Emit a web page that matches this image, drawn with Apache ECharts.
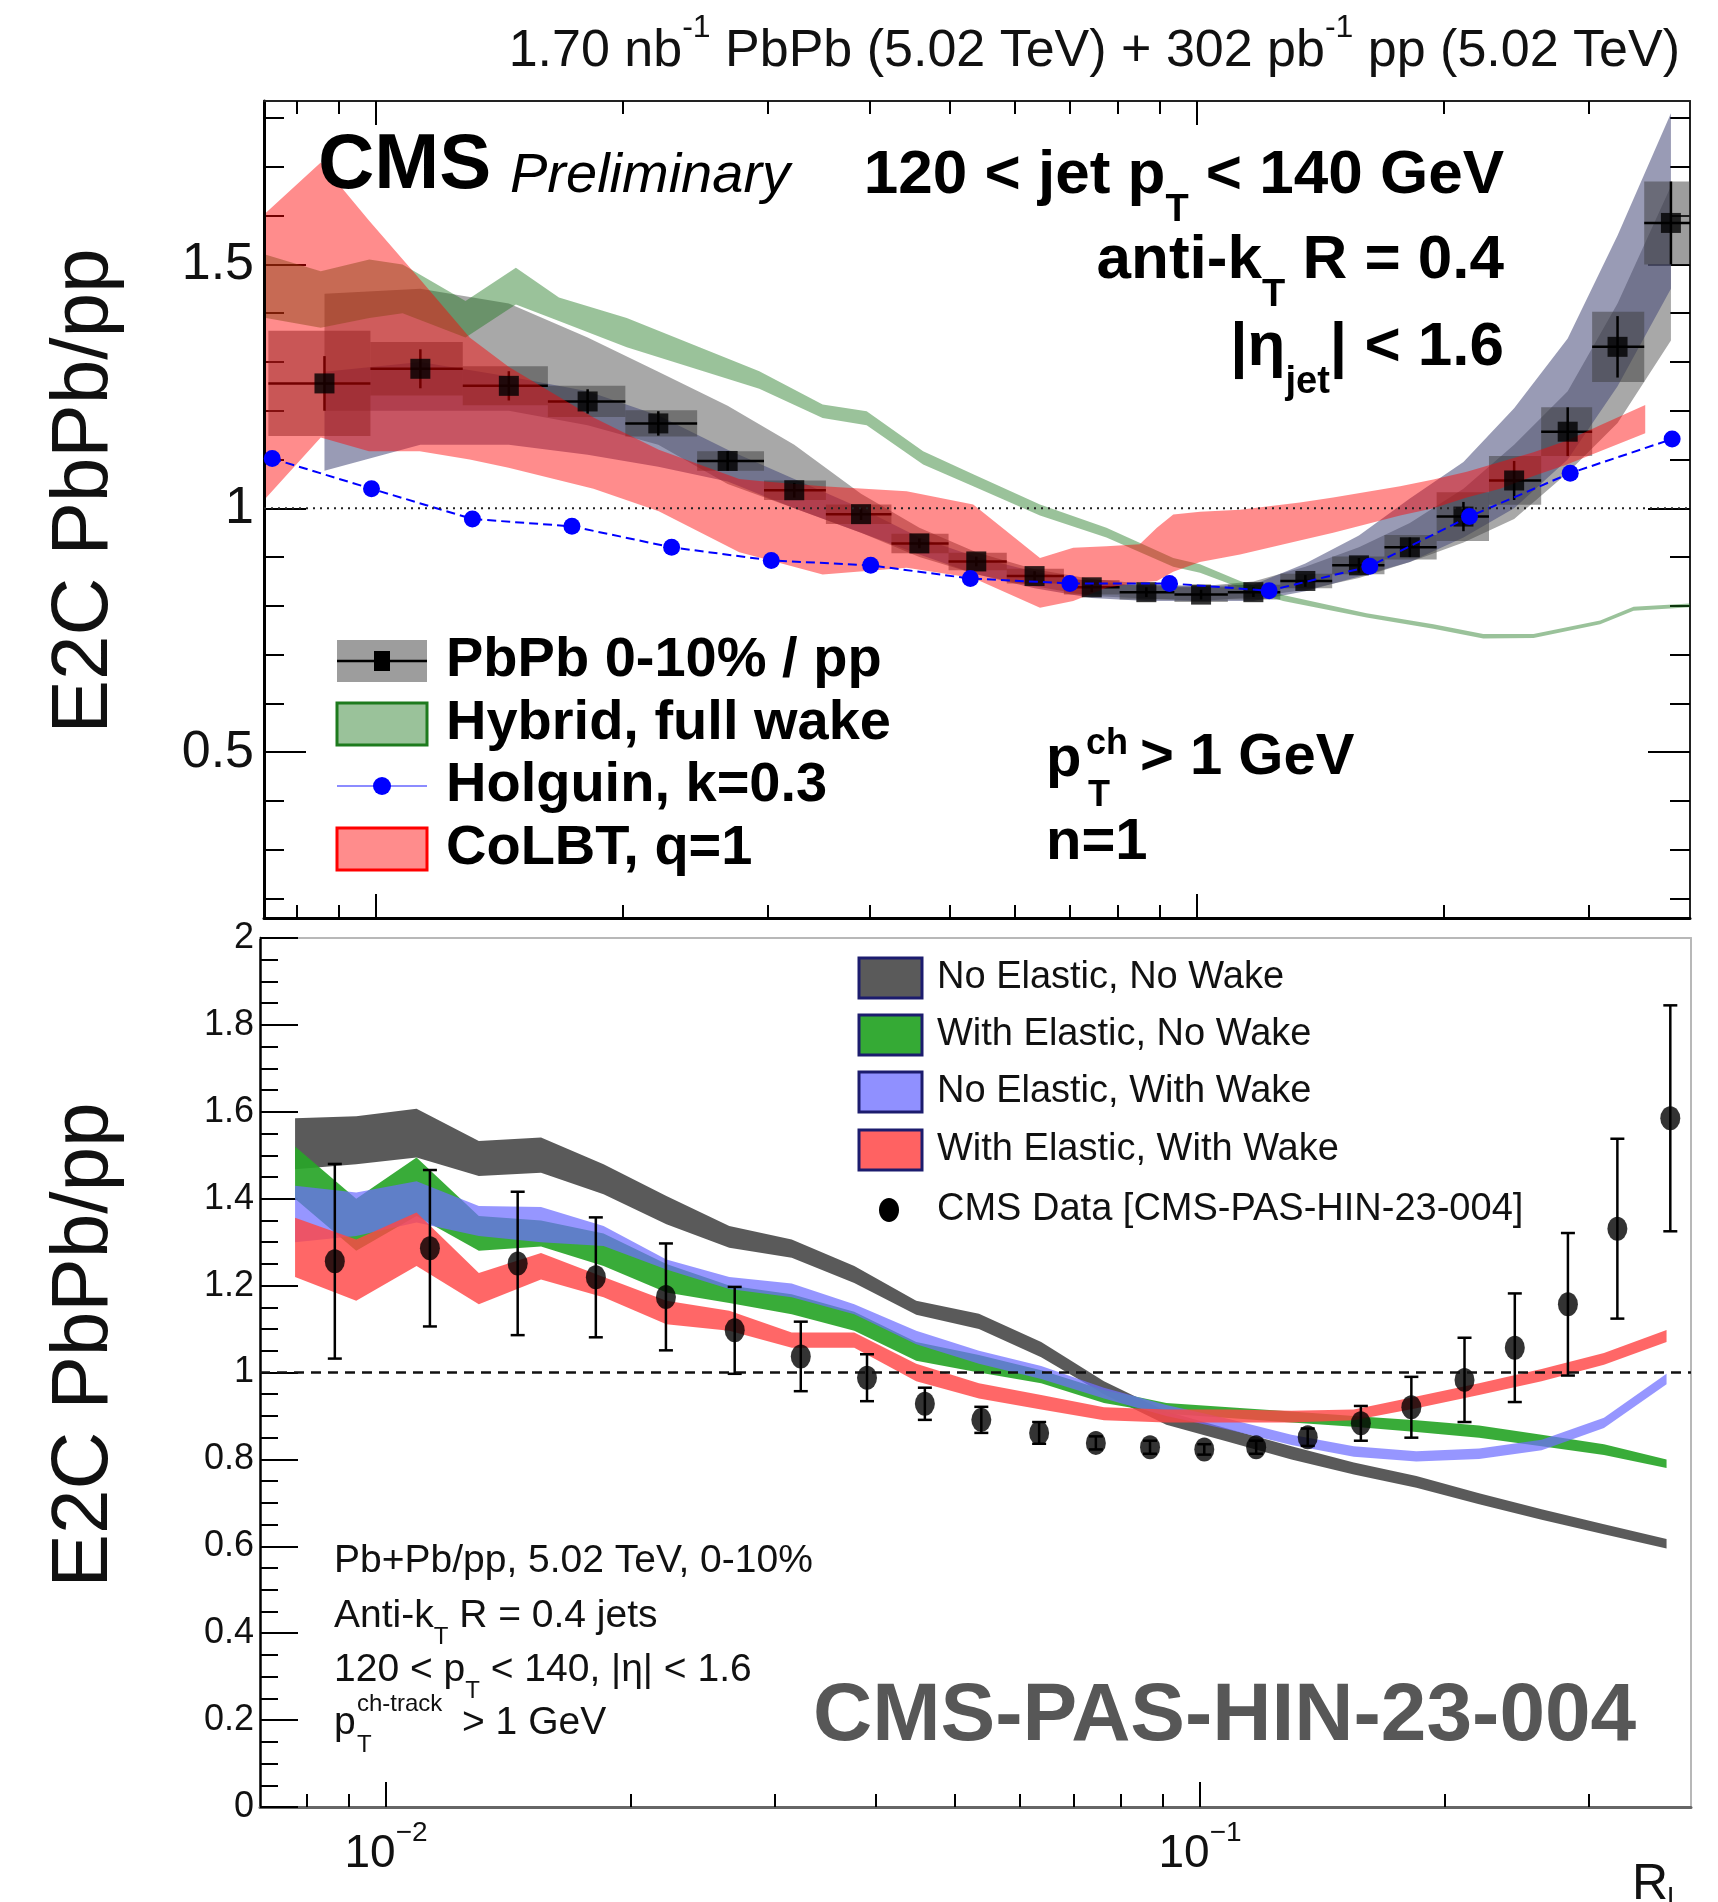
<!DOCTYPE html>
<html>
<head>
<meta charset="utf-8">
<title>E2C PbPb/pp</title>
<script src="https://cdn.jsdelivr.net/npm/echarts@6.0.0/dist/echarts.min.js"></script>
<style>
  html, body { margin: 0; padding: 0; background: #fff; }
  #chart { width: 1718px; height: 1902px; }
</style>
</head>
<body>
<div id="chart"></div>
<script>
var FONT = "'Liberation Sans', Arial, Helvetica, sans-serif";

// ---- CMS data: R_L bins, PbPb/pp ratio, uncertainties ----
var RL = [0.00865, 0.01132, 0.01451, 0.0181, 0.02207, 0.02681, 0.03232, 0.03898, 0.04591, 0.05386, 0.06343, 0.07447,
  0.0868, 0.1012, 0.1172, 0.1356, 0.1576, 0.1818, 0.2113, 0.2436, 0.2831, 0.3256, 0.3782];
var RL_EDGES = [0.00739, 0.00984, 0.01275, 0.01619, 0.02012, 0.02461, 0.02969, 0.03532, 0.04245, 0.04983, 0.05867, 0.06887,
  0.08052, 0.09391, 0.1091, 0.1264, 0.1462, 0.1693, 0.196, 0.227, 0.2628, 0.3032, 0.3509, 0.4064];
var E2C_RATIO = [1.256, 1.286, 1.251, 1.219, 1.174, 1.097, 1.037, 0.988, 0.928, 0.891, 0.861, 0.838,
  0.828, 0.823, 0.828, 0.851, 0.883, 0.920, 0.983, 1.057, 1.157, 1.331, 1.585];
var STAT_ERR = [0.056, 0.04, 0.03, 0.025, 0.025, 0.02, 0.015, 0.012, 0.01, 0.01, 0.01, 0.01,
  0.01, 0.01, 0.01, 0.012, 0.015, 0.02, 0.03, 0.04, 0.05, 0.063, 0.085];
var SYST_ERR = [0.108, 0.055, 0.04, 0.032, 0.027, 0.02, 0.02, 0.02, 0.02, 0.018, 0.015, 0.015,
  0.015, 0.015, 0.015, 0.015, 0.018, 0.025, 0.05, 0.05, 0.05, 0.072, 0.085];
var TOTAL_ERR = [0.224, 0.18, 0.165, 0.138, 0.123, 0.10, 0.08, 0.054, 0.037, 0.03, 0.025, 0.015,
  0.015, 0.012, 0.015, 0.02, 0.04, 0.07, 0.097, 0.125, 0.164, 0.207, 0.26];

// grey and slate bands drawn along the data (top panel)
var GRAY_LO = [1.20, 1.20, 1.20, 1.17, 1.13, 1.05, 1.00, 0.95, 0.90, 0.865, 0.84, 0.82,
  0.815, 0.81, 0.818, 0.833, 0.857, 0.89, 0.93, 0.978, 1.073, 1.175, 1.344];
var GRAY_HI = [1.44, 1.45, 1.42, 1.35, 1.28, 1.21, 1.13, 1.03, 0.96, 0.91, 0.875, 0.855,
  0.845, 0.84, 0.85, 0.88, 0.92, 0.97, 1.04, 1.13, 1.24, 1.42, 1.66];
var SLATE_LO = [1.077, 1.13, 1.13, 1.11, 1.085, 1.055, 1.00, 0.95, 0.905, 0.865, 0.836, 0.816,
  0.81, 0.81, 0.81, 0.83, 0.86, 0.89, 0.94, 1.00, 1.10, 1.25, 1.45];
var SLATE_HI = [1.28, 1.30, 1.27, 1.24, 1.19, 1.12, 1.06, 1.00, 0.94, 0.90, 0.87, 0.85,
  0.84, 0.84, 0.843, 0.887, 0.944, 1.02, 1.095, 1.205, 1.348, 1.559, 1.81];

// Holguin, k=0.3
var HOLGUIN_X = [0.00747, 0.00987, 0.0131, 0.01732, 0.02291, 0.0303, 0.04005, 0.05297, 0.07003, 0.09261, 0.1225,
  0.1625, 0.2149, 0.2851, 0.3795];
var HOLGUIN_Y = [1.102, 1.040, 0.978, 0.963, 0.920, 0.893, 0.883, 0.856, 0.846, 0.846, 0.831,
  0.881, 0.983, 1.072, 1.142];

// Hybrid, full wake
var HYBRID_X = [0.00734, 0.00856, 0.00981, 0.01077, 0.01285, 0.0148, 0.0167, 0.0202, 0.0293, 0.035, 0.0396, 0.0464,
  0.0534, 0.0644, 0.0776, 0.0936, 0.1009, 0.1129, 0.1274, 0.161, 0.1942, 0.2234, 0.2572, 0.3101, 0.3406, 0.399];
var HYBRID_LO = [1.39, 1.37, 1.39, 1.40, 1.35, 1.418, 1.384, 1.33, 1.245, 1.185, 1.17, 1.09,
  1.045, 0.985, 0.94, 0.88, 0.868, 0.837, 0.81, 0.776, 0.753, 0.733, 0.734, 0.762, 0.79, 0.797];
var HYBRID_HI = [1.52, 1.486, 1.51, 1.50, 1.425, 1.493, 1.432, 1.39, 1.281, 1.213, 1.199, 1.117,
  1.070, 1.008, 0.96, 0.898, 0.885, 0.851, 0.822, 0.785, 0.762, 0.742, 0.742, 0.77, 0.798, 0.805];

// CoLBT, q=1
var COLBT_X = [0.00734, 0.00856, 0.0098, 0.0113, 0.013, 0.0145, 0.0184, 0.0221, 0.0277, 0.0293, 0.035, 0.0443,
  0.0534, 0.0644, 0.0707, 0.0776, 0.0852, 0.0894, 0.0936, 0.1009, 0.1129, 0.1335, 0.1466, 0.1769, 0.1942,
  0.2133, 0.2342, 0.2572, 0.2825, 0.3101, 0.3519];
var COLBT_LO = [1.021, 1.145, 1.117, 1.117, 1.10, 1.083, 1.04, 0.994, 0.91, 0.899, 0.864, 0.878,
  0.857, 0.796, 0.81, 0.837, 0.848, 0.851, 0.87, 0.89, 0.905, 0.934, 0.95, 0.985, 1.00,
  1.022, 1.04, 1.066, 1.09, 1.117, 1.154];
var COLBT_HI = [1.606, 1.709, 1.59, 1.47, 1.35, 1.29, 1.186, 1.12, 1.06, 1.056, 1.045, 1.035,
  1.008, 0.898, 0.919, 0.922, 0.926, 0.96, 0.987, 0.993, 0.997, 1.012, 1.022, 1.045, 1.059,
  1.075, 1.095, 1.115, 1.139, 1.17, 1.212];

// bottom panel model curves
var MODEL_X = [0.00773, 0.00919, 0.0109, 0.013, 0.0155, 0.0185, 0.0221, 0.0264, 0.0315, 0.0376, 0.0448, 0.0535,
  0.0638, 0.0762, 0.0909, 0.1085, 0.1295, 0.1545, 0.1844, 0.2202, 0.2628, 0.3135, 0.3742];
var NENW_LO = [1.468, 1.479, 1.495, 1.452, 1.46, 1.41, 1.341, 1.287, 1.264, 1.206, 1.133, 1.10,
  1.035, 0.95, 0.88, 0.84, 0.80, 0.765, 0.735, 0.697, 0.661, 0.628, 0.595];
var NENW_HI = [1.585, 1.59, 1.607, 1.533, 1.541, 1.479, 1.406, 1.337, 1.306, 1.245, 1.165, 1.135,
  1.07, 0.98, 0.91, 0.87, 0.83, 0.793, 0.762, 0.722, 0.685, 0.651, 0.617];
var WENW_LO = [1.40, 1.28, 1.36, 1.28, 1.29, 1.245, 1.184, 1.16, 1.134, 1.096, 1.027, 1.00,
  0.975, 0.93, 0.905, 0.895, 0.885, 0.875, 0.863, 0.85, 0.83, 0.81, 0.78];
var WENW_HI = [1.52, 1.40, 1.495, 1.36, 1.35, 1.32, 1.25, 1.20, 1.18, 1.14, 1.07, 1.04,
  1.005, 0.96, 0.93, 0.92, 0.91, 0.90, 0.89, 0.878, 0.857, 0.835, 0.80];
var NEWW_LO = [1.30, 1.314, 1.345, 1.314, 1.30, 1.291, 1.237, 1.192, 1.173, 1.134, 1.065, 1.02,
  0.985, 0.94, 0.90, 0.868, 0.833, 0.806, 0.795, 0.801, 0.821, 0.872, 0.973];
var NEWW_HI = [1.43, 1.414, 1.44, 1.383, 1.381, 1.337, 1.26, 1.22, 1.205, 1.157, 1.096, 1.05,
  1.015, 0.965, 0.925, 0.893, 0.857, 0.83, 0.819, 0.825, 0.845, 0.896, 0.997];
var WEWW_LO = [1.22, 1.165, 1.245, 1.157, 1.214, 1.173, 1.111, 1.096, 1.057, 1.057, 0.98, 0.94,
  0.915, 0.89, 0.885, 0.885, 0.885, 0.89, 0.918, 0.948, 0.98, 1.018, 1.07];
var WEWW_HI = [1.356, 1.306, 1.368, 1.229, 1.275, 1.22, 1.165, 1.142, 1.092, 1.092, 1.02, 0.975,
  0.948, 0.92, 0.915, 0.915, 0.912, 0.915, 0.945, 0.975, 1.008, 1.045, 1.098];

// axis ticks
var X_MAJOR = [0.01, 0.1];
var X_MINOR = [0.008, 0.009, 0.02, 0.03, 0.04, 0.05, 0.06, 0.07, 0.08, 0.09, 0.2, 0.3];
var TOP_Y_LABELS = [0.5, 1, 1.5];
var TOP_Y_MINOR = [0.2, 0.3, 0.4, 0.6, 0.7, 0.8, 0.9, 1.1, 1.2, 1.3, 1.4, 1.6, 1.7, 1.8];
var BOT_Y_LABELS = [0, 0.2, 0.4, 0.6, 0.8, 1, 1.2, 1.4, 1.6, 1.8, 2];
var BOT_Y_MINOR = [0.05, 0.1, 0.15, 0.25, 0.3, 0.35, 0.45, 0.5, 0.55, 0.65, 0.7, 0.75, 0.85, 0.9, 0.95,
  1.05, 1.1, 1.15, 1.25, 1.3, 1.35, 1.45, 1.5, 1.55, 1.65, 1.7, 1.75, 1.85, 1.9, 1.95];

var X_TOP_MIN = 0.0073, X_TOP_MAX = 0.399;
var X_BOT_MIN = 0.0070, X_BOT_MAX = 0.401;
var Y_TOP_MIN = 0.16, Y_TOP_MAX = 1.835;

var chart = echarts.init(document.getElementById('chart'));

function xAx(grid, pos, min, max, o) {
  return {
    type: 'log', logBase: 10, gridIndex: grid, position: pos, min: min, max: max,
    axisLine: { show: !!o.line, onZero: false, lineStyle: { color: o.line || '#000', width: o.lw || 2 } },
    axisTick: { show: !!o.ticks, inside: true, length: o.len || 0, customValues: o.ticks,
      lineStyle: { color: '#000', width: 2 } },
    axisLabel: o.label || { show: false },
    splitLine: { show: false }
  };
}
function yAx(grid, pos, min, max, o) {
  return {
    type: 'value', gridIndex: grid, position: pos, min: min, max: max,
    axisLine: { show: !!o.line, onZero: false, lineStyle: { color: o.line || '#000', width: o.lw || 2 } },
    axisTick: { show: !!o.ticks, inside: true, length: o.len || 0, customValues: o.ticks,
      lineStyle: { color: '#000', width: 2 } },
    axisLabel: o.label || { show: false },
    splitLine: { show: false }
  };
}

function band(name, xs, lo, hi, fill, xi, yi) {
  return {
    type: 'custom', name: name, xAxisIndex: xi, yAxisIndex: yi, clip: true, silent: true,
    data: xs.map(function (x, i) { return [x, lo[i], hi[i]]; }),
    renderItem: function (params, api) {
      if (params.dataIndexInside !== 0) return null;
      var n = params.dataInsideLength, up = [], dn = [];
      for (var i = 0; i < n; i++) {
        up.push(api.coord([api.value(0, i), api.value(2, i)]));
        dn.unshift(api.coord([api.value(0, i), api.value(1, i)]));
      }
      return { type: 'polygon', shape: { points: up.concat(dn) }, style: { fill: fill } };
    }
  };
}

// rich text: every token top-aligned, pushed down by padding so that sub/sup sit off the main line
function makeRich(size, o) {
  o = o || {};
  var base = { fontFamily: FONT, fontWeight: o.bold ? 'bold' : 'normal', fontStyle: o.italic ? 'italic' : 'normal',
    fill: o.color || '#000', color: o.color || '#000', verticalAlign: 'top' };
  var s = Math.round(size * 0.62);
  return {
    n: Object.assign({}, base, { fontSize: size, padding: [Math.round(0.3 * size), 0, 0, 0] }),
    sub: Object.assign({}, base, { fontSize: s, padding: [Math.round(1.35 * size - s / 2), 0, 0, 0] }),
    sup: Object.assign({}, base, { fontSize: s, padding: [Math.max(0, Math.round(0.36 * size - s / 2)), 0, 0, 0] })
  };
}
function txt(x, y, text, size, o) {
  o = o || {};
  var al = o.align || 'left';
  var rich = o.rich ? makeRich(size, o) : undefined;
  var va = o.rich ? 'top' : 'middle';
  return {
    type: 'text', x: x, y: o.rich ? y - 0.8 * size : y, rotation: o.rot || 0, silent: true, z: 100,
    style: { text: text, fontFamily: FONT, fontSize: size, fontWeight: o.bold ? 'bold' : 'normal',
      fontStyle: o.italic ? 'italic' : 'normal', fill: o.color || '#000',
      align: al, textAlign: al, verticalAlign: va, textVerticalAlign: va, rich: rich }
  };
}

var topLegendY = [661, 724, 786, 849];
var botLegendY = [978, 1035, 1092, 1150, 1210];

var option = {
  backgroundColor: '#fff',
  animation: false,
  grid: [
    { left: 264, top: 101, width: 1426, height: 817 },
    { left: 260, top: 938, width: 1431, height: 869 }
  ],
  xAxis: [
    xAx(0, 'bottom', X_TOP_MIN, X_TOP_MAX, { line: '#000', lw: 3, ticks: X_MAJOR, len: 24 }),
    xAx(0, 'bottom', X_TOP_MIN, X_TOP_MAX, { ticks: X_MINOR, len: 13 }),
    xAx(0, 'top', X_TOP_MIN, X_TOP_MAX, { line: '#222', lw: 2, ticks: X_MAJOR, len: 24 }),
    xAx(0, 'top', X_TOP_MIN, X_TOP_MAX, { ticks: X_MINOR, len: 13 }),
    xAx(1, 'bottom', X_BOT_MIN, X_BOT_MAX, { line: '#666', lw: 3, ticks: X_MAJOR, len: 25,
      label: {
        show: true, customValues: X_MAJOR, margin: 12,
        formatter: function (v) { return '{n|10}{sup|\u2212' + (-Math.round(Math.log10(v))) + '}'; },
        rich: {
          n: { fontFamily: FONT, fontSize: 46, color: '#111', verticalAlign: 'top', padding: [12, 0, 0, 0] },
          sup: { fontFamily: FONT, fontSize: 28, color: '#111', verticalAlign: 'top' }
        }
      } }),
    xAx(1, 'bottom', X_BOT_MIN, X_BOT_MAX, { ticks: X_MINOR, len: 13 }),
    xAx(1, 'top', X_BOT_MIN, X_BOT_MAX, { line: '#b8b8b8', lw: 2 })
  ],
  yAxis: [
    yAx(0, 'left', Y_TOP_MIN, Y_TOP_MAX, { line: '#000', lw: 3, ticks: TOP_Y_LABELS, len: 42,
      label: { show: true, customValues: TOP_Y_LABELS, margin: 10, fontFamily: FONT, fontSize: 52, color: '#111' } }),
    yAx(0, 'left', Y_TOP_MIN, Y_TOP_MAX, { ticks: TOP_Y_MINOR, len: 20 }),
    yAx(0, 'right', Y_TOP_MIN, Y_TOP_MAX, { line: '#222', lw: 2, ticks: TOP_Y_LABELS, len: 42 }),
    yAx(0, 'right', Y_TOP_MIN, Y_TOP_MAX, { ticks: TOP_Y_MINOR, len: 20 }),
    yAx(1, 'left', 0, 2, { line: '#000', lw: 2.5, ticks: BOT_Y_LABELS, len: 38,
      label: { show: true, customValues: BOT_Y_LABELS, margin: 6, fontFamily: FONT, fontSize: 36, color: '#111' } }),
    yAx(1, 'left', 0, 2, { ticks: BOT_Y_MINOR, len: 18 }),
    yAx(1, 'right', 0, 2, { line: '#b8b8b8', lw: 2 })
  ],
  series: [
    // ---------- top panel ----------
    band('grey band', RL, GRAY_LO, GRAY_HI, 'rgba(110,110,110,0.6)', 0, 0),
    band('slate band', RL, SLATE_LO, SLATE_HI, 'rgba(70,72,120,0.55)', 0, 0),
    {
      type: 'custom', name: 'syst', xAxisIndex: 0, yAxisIndex: 0, clip: true, silent: true,
      data: RL.map(function (x, i) { return [x, E2C_RATIO[i], RL_EDGES[i], RL_EDGES[i + 1], SYST_ERR[i]]; }),
      renderItem: function (params, api) {
        var a = api.coord([api.value(2), api.value(1) + api.value(4)]);
        var b = api.coord([api.value(3), api.value(1) - api.value(4)]);
        return { type: 'rect', shape: { x: a[0], y: a[1], width: b[0] - a[0], height: b[1] - a[1] },
          style: { fill: 'rgba(60,60,60,0.5)' } };
      }
    },
    band('Hybrid, full wake', HYBRID_X, HYBRID_LO, HYBRID_HI, 'rgba(30,120,30,0.45)', 0, 0),
    {
      type: 'custom', name: 'stat', xAxisIndex: 0, yAxisIndex: 0, clip: true, silent: true,
      data: RL.map(function (x, i) { return [x, E2C_RATIO[i], RL_EDGES[i], RL_EDGES[i + 1], STAT_ERR[i]]; }),
      renderItem: function (params, api) {
        var c = api.coord([api.value(0), api.value(1)]);
        var l = api.coord([api.value(2), api.value(1)]);
        var r = api.coord([api.value(3), api.value(1)]);
        var t = api.coord([api.value(0), api.value(1) + api.value(4)]);
        var b = api.coord([api.value(0), api.value(1) - api.value(4)]);
        var st = { stroke: '#000', lineWidth: 2.5 };
        return { type: 'group', children: [
          { type: 'line', shape: { x1: l[0], y1: c[1], x2: r[0], y2: c[1] }, style: st },
          { type: 'line', shape: { x1: c[0], y1: t[1], x2: c[0], y2: b[1] }, style: st }
        ] };
      }
    },
    {
      type: 'scatter', name: 'PbPb 0-10% / pp', xAxisIndex: 0, yAxisIndex: 0, silent: true,
      symbol: 'rect', symbolSize: 20, itemStyle: { color: '#000' },
      data: RL.map(function (x, i) { return [x, E2C_RATIO[i]]; })
    },
    {
      type: 'line', name: 'Holguin, k=0.3', xAxisIndex: 0, yAxisIndex: 0, silent: true,
      symbol: 'circle', symbolSize: 17, itemStyle: { color: '#0000ff' },
      lineStyle: { color: '#0000ff', width: 2, type: [9, 5] },
      data: HOLGUIN_X.map(function (x, i) { return [x, HOLGUIN_Y[i]]; })
    },
    band('CoLBT, q=1', COLBT_X, COLBT_LO, COLBT_HI, 'rgba(255,0,0,0.45)', 0, 0),
    {
      type: 'line', name: 'unity top', xAxisIndex: 0, yAxisIndex: 0, silent: true, symbol: 'none',
      lineStyle: { color: '#222', width: 2, type: [2, 5] },
      data: [[X_TOP_MIN, 1], [X_TOP_MAX, 1]]
    },
    // ---------- bottom panel ----------
    band('No Elastic, No Wake', MODEL_X, NENW_LO, NENW_HI, 'rgba(85,85,85,0.97)', 4, 4),
    band('With Elastic, No Wake', MODEL_X, WENW_LO, WENW_HI, 'rgba(40,165,40,0.92)', 4, 4),
    band('No Elastic, With Wake', MODEL_X, NEWW_LO, NEWW_HI, 'rgba(110,110,255,0.72)', 4, 4),
    band('With Elastic, With Wake', MODEL_X, WEWW_LO, WEWW_HI, 'rgba(255,70,70,0.82)', 4, 4),
    {
      type: 'line', name: 'unity bottom', xAxisIndex: 4, yAxisIndex: 4, silent: true, symbol: 'none',
      lineStyle: { color: '#111', width: 2.5, type: [10, 7] },
      data: [[X_BOT_MIN, 1], [X_BOT_MAX, 1]]
    },
    {
      type: 'custom', name: 'total err', xAxisIndex: 4, yAxisIndex: 4, clip: true, silent: true,
      data: RL.map(function (x, i) { return [x, E2C_RATIO[i], TOTAL_ERR[i]]; }),
      renderItem: function (params, api) {
        var t = api.coord([api.value(0), api.value(1) + api.value(2)]);
        var b = api.coord([api.value(0), api.value(1) - api.value(2)]);
        var st = { stroke: '#000', lineWidth: 2.5 };
        return { type: 'group', children: [
          { type: 'line', shape: { x1: t[0], y1: t[1], x2: b[0], y2: b[1] }, style: st },
          { type: 'line', shape: { x1: t[0] - 7, y1: t[1], x2: t[0] + 7, y2: t[1] }, style: st },
          { type: 'line', shape: { x1: b[0] - 7, y1: b[1], x2: b[0] + 7, y2: b[1] }, style: st }
        ] };
      }
    },
    {
      type: 'scatter', name: 'CMS Data', xAxisIndex: 4, yAxisIndex: 4, silent: true,
      symbol: 'circle', symbolSize: [20, 24], itemStyle: { color: '#000' },
      data: RL.map(function (x, i) { return [x, E2C_RATIO[i]]; })
    }
  ],
  graphic: [
    // header + y titles
    txt(1680, 51, '{n|1.70 nb}{sup|-1}{n| PbPb (5.02 TeV) + 302 pb}{sup|-1}{n| pp (5.02 TeV)}', 52,
      { rich: true, align: 'right', color: '#111' }),
    txt(85, 491, 'E2C PbPb/pp', 80, { rot: Math.PI / 2, align: 'center', color: '#111' }),
    txt(85, 1345, 'E2C PbPb/pp', 80, { rot: Math.PI / 2, align: 'center', color: '#111' }),
    // top panel labels
    txt(318, 166, 'CMS', 78, { bold: true }),
    txt(510, 176, 'Preliminary', 56, { italic: true }),
    txt(1504, 176, '{n|120 < jet p}{sub|T}{n| < 140 GeV}', 62, { rich: true, bold: true, align: 'right' }),
    txt(1504, 261, '{n|anti-k}{sub|T}{n| R = 0.4}', 62, { rich: true, bold: true, align: 'right' }),
    txt(1504, 348, '{n||\u03b7}{sub|jet}{n|| < 1.6}', 62, { rich: true, bold: true, align: 'right' }),
    // top legend
    { type: 'rect', shape: { x: 337, y: topLegendY[0] - 21, width: 90, height: 42 }, style: { fill: 'rgba(60,60,60,0.5)' }, z: 100 },
    { type: 'line', shape: { x1: 337, y1: topLegendY[0], x2: 427, y2: topLegendY[0] }, style: { stroke: '#000', lineWidth: 2.5 }, z: 101 },
    { type: 'rect', shape: { x: 374, y: topLegendY[0] - 10, width: 16, height: 20 }, style: { fill: '#000' }, z: 102 },
    { type: 'rect', shape: { x: 337, y: topLegendY[1] - 21, width: 90, height: 42 },
      style: { fill: 'rgba(30,120,30,0.45)', stroke: '#1d7a1d', lineWidth: 3 }, z: 100 },
    { type: 'line', shape: { x1: 337, y1: topLegendY[2], x2: 427, y2: topLegendY[2] }, style: { stroke: '#6666ff', lineWidth: 1.5 }, z: 100 },
    { type: 'circle', shape: { cx: 382, cy: topLegendY[2], r: 9 }, style: { fill: '#0000ff' }, z: 101 },
    { type: 'rect', shape: { x: 337, y: topLegendY[3] - 21, width: 90, height: 42 },
      style: { fill: 'rgba(255,0,0,0.45)', stroke: '#ff0000', lineWidth: 3 }, z: 100 },
    txt(446, topLegendY[0], 'PbPb 0-10% / pp', 56, { bold: true }),
    txt(446, topLegendY[1], 'Hybrid, full wake', 56, { bold: true }),
    txt(446, topLegendY[2], 'Holguin, k=0.3', 56, { bold: true }),
    txt(446, topLegendY[3], 'CoLBT, q=1', 56, { bold: true }),
    txt(1046, 760, 'p', 58, { bold: true }),
    txt(1086, 744, 'ch', 36, { bold: true }),
    txt(1088, 796, 'T', 36, { bold: true }),
    txt(1140, 758, '> 1 GeV', 58, { bold: true }),
    txt(1046, 843, 'n=1', 58, { bold: true }),
    // bottom legend
    { type: 'rect', shape: { x: 859, y: botLegendY[0] - 20, width: 63, height: 40 },
      style: { fill: '#5a5a5a', stroke: '#1c1c6e', lineWidth: 3 }, z: 100 },
    { type: 'rect', shape: { x: 859, y: botLegendY[1] - 20, width: 63, height: 40 },
      style: { fill: '#35aa35', stroke: '#1c1c6e', lineWidth: 3 }, z: 100 },
    { type: 'rect', shape: { x: 859, y: botLegendY[2] - 20, width: 63, height: 40 },
      style: { fill: '#9090ff', stroke: '#1c1c6e', lineWidth: 3 }, z: 100 },
    { type: 'rect', shape: { x: 859, y: botLegendY[3] - 20, width: 63, height: 40 },
      style: { fill: '#ff6262', stroke: '#1c1c6e', lineWidth: 3 }, z: 100 },
    { type: 'ellipse', shape: { cx: 889, cy: botLegendY[4], rx: 10, ry: 12 }, style: { fill: '#000' }, z: 100 },
    txt(937, botLegendY[0], 'No Elastic, No Wake', 38, { color: '#111' }),
    txt(937, botLegendY[1], 'With Elastic, No Wake', 38, { color: '#111' }),
    txt(937, botLegendY[2], 'No Elastic, With Wake', 38, { color: '#111' }),
    txt(937, botLegendY[3], 'With Elastic, With Wake', 38, { color: '#111' }),
    txt(937, botLegendY[4], 'CMS Data [CMS-PAS-HIN-23-004]', 38, { color: '#111' }),
    // bottom-left notes
    txt(334, 1561, 'Pb+Pb/pp, 5.02 TeV, 0-10%', 39, { color: '#111' }),
    txt(334, 1616, '{n|Anti-k}{sub|T}{n| R = 0.4 jets}', 39, { rich: true, color: '#111' }),
    txt(334, 1670, '{n|120 < p}{sub|T}{n| < 140, |\u03b7| < 1.6}', 39, { rich: true, color: '#111' }),
    txt(334, 1723, 'p', 39, { color: '#111' }),
    txt(357, 1704, 'ch-track', 24, { color: '#111' }),
    txt(357, 1745, 'T', 24, { color: '#111' }),
    txt(462, 1723, '> 1 GeV', 39, { color: '#111' }),
    txt(813, 1717, 'CMS-PAS-HIN-23-004', 82, { bold: true, color: '#575757' }),
    txt(1632, 1885, 'R', 50, { color: '#111' }),
    txt(1667, 1898, 'L', 28, { color: '#111' })
  ]
};

chart.setOption(option);
</script>
</body>
</html>
